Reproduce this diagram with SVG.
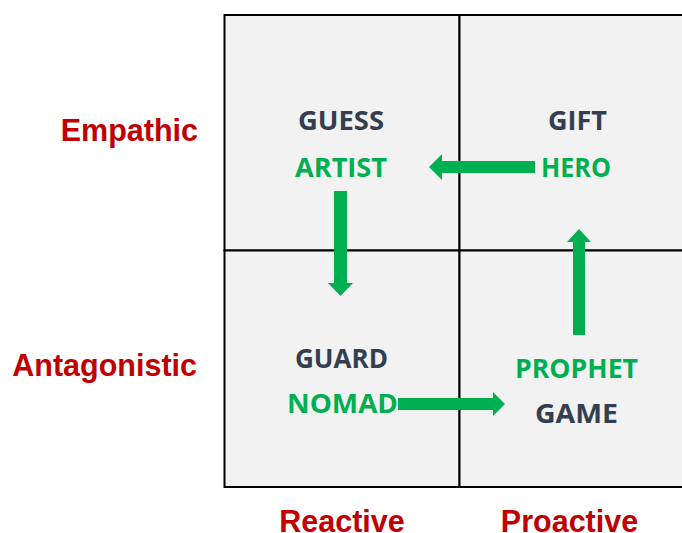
<svg xmlns="http://www.w3.org/2000/svg" width="682" height="533" viewBox="0 0 682 533">
<style>
.cell{fill:#F2F2F2;stroke:#000;stroke-width:2}
.dark{font-family:"Open Sans","Noto Sans",sans-serif;font-weight:700;font-size:26px;fill:#333F50;text-anchor:middle}
.green{font-family:"Open Sans","Noto Sans",sans-serif;font-weight:700;font-size:26px;fill:#00B050;text-anchor:middle}
.axis{font-family:"Liberation Sans",Arial,sans-serif;font-weight:700;font-size:30.5px;fill:#C00000}
.arrow{fill:#00B050}
</style>
<rect width="682" height="533" fill="#FFFFFF"/>
<g id="q-guess">
<rect class="cell" x="224.5" y="15" width="235" height="235.5"/>
<text class="dark" x="341" y="130" textLength="86" lengthAdjust="spacingAndGlyphs">GUESS</text>
<text class="green" x="341" y="177" textLength="92" lengthAdjust="spacingAndGlyphs">ARTIST</text>
</g>
<g id="q-gift">
<rect class="cell" x="459.5" y="15" width="235" height="235.5"/>
<text class="dark" x="577.5" y="130" textLength="59" lengthAdjust="spacingAndGlyphs">GIFT</text>
<text class="green" x="576" y="177" textLength="70" lengthAdjust="spacingAndGlyphs">HERO</text>
</g>
<g id="q-guard">
<rect class="cell" x="224.5" y="250.5" width="235" height="236.5"/>
<text class="dark" x="341.5" y="368" textLength="93" lengthAdjust="spacingAndGlyphs">GUARD</text>
<text class="green" x="342.5" y="413" textLength="111" lengthAdjust="spacingAndGlyphs">NOMAD</text>
</g>
<g id="q-prophet">
<rect class="cell" x="459.5" y="250.5" width="235" height="236.5"/>
<text class="green" x="576.5" y="377.5" textLength="123" lengthAdjust="spacingAndGlyphs">PROPHET</text>
<text class="dark" x="576.5" y="422.5" textLength="83" lengthAdjust="spacingAndGlyphs">GAME</text>
</g>
<g id="label-empathic"><text class="axis" x="198" y="141" text-anchor="end">Empathic</text></g>
<g id="label-antagonistic"><text class="axis" x="197" y="376" text-anchor="end">Antagonistic</text></g>
<g id="label-reactive"><text class="axis" x="342" y="532" text-anchor="middle">Reactive</text></g>
<g id="label-proactive"><text class="axis" x="569.5" y="532" text-anchor="middle">Proactive</text></g>
<g id="connectors">
<polygon class="arrow" points="535,161 442,161 442,154 429,167 442,180 442,173 535,173"/>
<polygon class="arrow" points="334,191 347,191 347,283 353,283 340.5,296 328,283 334,283"/>
<polygon class="arrow" points="398,398 493,398 493,392 505,404 493,416 493,410 398,410"/>
<polygon class="arrow" points="573,335 585,335 585,242 591,242 579,229 567,242 573,242"/>
</g>
</svg>
